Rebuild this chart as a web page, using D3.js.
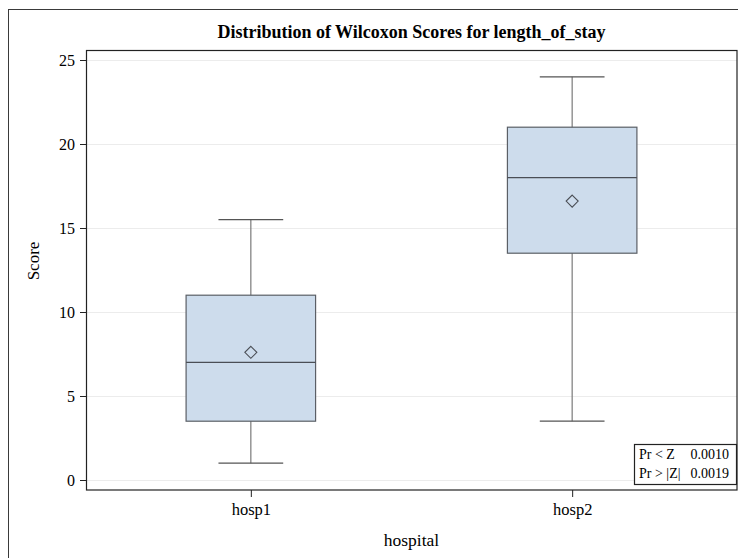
<!DOCTYPE html>
<html><head><meta charset="utf-8">
<script src="https://cdn.jsdelivr.net/npm/d3@7"></script>
<style>body{margin:0;background:#fff}svg{display:block;font-family:"Liberation Serif","Times New Roman",serif}</style>
</head><body><svg id="c" width="738" height="558"></svg>
<script>
const categories = ["hosp1", "hosp2"];
const whiskerLow = [1, 3.5];
const q1 = [3.5, 13.5];
const median = [7, 18];
const q3 = [11, 21];
const whiskerHigh = [15.5, 24];
const means = [7.6, 16.6];
const yTicks = [0, 5, 10, 15, 20, 25];
const statLabels = ["Pr < Z", "Pr > |Z|"];
const statValues = ["0.0010", "0.0019"];

const svg = d3.select("#c");
const L = 86, R = 737, T = 50, B = 490;

// outer border
svg.append("rect").attr("x", 8.5).attr("y", 9.5).attr("width", 745).attr("height", 570)
  .attr("fill", "none").attr("stroke", "#3a3a3a").attr("stroke-width", 1);

const y = d3.scaleLinear().domain([0, 25]).range([480, 60]);
const x = d3.scalePoint().domain(categories).range([L, R]).padding(0.513);
const boxW = x.step() * 0.403;

// gridlines
svg.append("g").selectAll("line").data(yTicks).join("line")
  .attr("x1", L).attr("x2", R).attr("y1", d => y(d) + 0.5).attr("y2", d => y(d) + 0.5)
  .attr("stroke", "#ececec").attr("stroke-width", 1);

// title
svg.append("text").attr("x", (L + R) / 2).attr("y", 38).attr("text-anchor", "middle")
  .attr("font-size", 18).attr("font-weight", "bold").attr("fill", "#000")
  .text("Distribution of Wilcoxon Scores for length_of_stay");

// boxes
const data = categories.map((c, i) => ({c, lo: whiskerLow[i], q1: q1[i], med: median[i], q3: q3[i], hi: whiskerHigh[i], mean: means[i]}));
const g = svg.append("g").selectAll("g").data(data).join("g");
g.append("line").attr("x1", d => x(d.c)).attr("x2", d => x(d.c))
  .attr("y1", d => y(d.hi)).attr("y2", d => y(d.lo)).attr("stroke", "#7a7a7a").attr("stroke-width", 1.2);
g.append("line").attr("x1", d => x(d.c) - boxW / 4).attr("x2", d => x(d.c) + boxW / 4)
  .attr("y1", d => y(d.hi)).attr("y2", d => y(d.hi)).attr("stroke", "#555").attr("stroke-width", 1.2);
g.append("line").attr("x1", d => x(d.c) - boxW / 4).attr("x2", d => x(d.c) + boxW / 4)
  .attr("y1", d => y(d.lo)).attr("y2", d => y(d.lo)).attr("stroke", "#555").attr("stroke-width", 1.2);
g.append("rect").attr("x", d => x(d.c) - boxW / 2).attr("width", boxW)
  .attr("y", d => y(d.q3)).attr("height", d => y(d.q1) - y(d.q3))
  .attr("fill", "#cddcec").attr("stroke", "#5b5f66").attr("stroke-width", 1.2);
g.append("line").attr("x1", d => x(d.c) - boxW / 2).attr("x2", d => x(d.c) + boxW / 2)
  .attr("y1", d => y(d.med)).attr("y2", d => y(d.med)).attr("stroke", "#4a4e55").attr("stroke-width", 1.3);
g.append("path").attr("d", d => {
  const cx = x(d.c), cy = y(d.mean), r = 6;
  return `M${cx},${cy - r}L${cx + r},${cy}L${cx},${cy + r}L${cx - r},${cy}Z`;
}).attr("fill", "none").attr("stroke", "#4a4e55").attr("stroke-width", 1.1);

// frame
svg.append("rect").attr("x", L + 0.5).attr("y", T + 0.5).attr("width", R - L - 0.5).attr("height", B - T - 0.5)
  .attr("fill", "none").attr("stroke", "#222").attr("stroke-width", 1.2);

// y axis
const yAxis = svg.append("g").attr("transform", `translate(${L},0)`)
  .call(d3.axisLeft(y).tickValues(yTicks).tickSize(6).tickPadding(5).tickFormat(d3.format("d")));
yAxis.select(".domain").remove();
yAxis.selectAll("line").attr("stroke", "#222");
yAxis.attr("font-size", 16).attr("font-family", "Liberation Serif, serif");
yAxis.selectAll("text").attr("fill", "#000");

// x axis
const xAxis = svg.append("g").attr("transform", `translate(0,${B})`)
  .call(d3.axisBottom(x).tickSize(7).tickPadding(6));
xAxis.select(".domain").remove();
xAxis.selectAll("line").attr("stroke", "#222");
xAxis.attr("font-size", 16.5).attr("font-family", "Liberation Serif, serif");
xAxis.selectAll("text").attr("fill", "#000");

// axis labels
svg.append("text").attr("x", (L + R) / 2).attr("y", 546).attr("text-anchor", "middle")
  .attr("font-size", 17.5).attr("fill", "#000").text("hospital");
svg.append("text").attr("transform", `translate(39,261) rotate(-90)`).attr("text-anchor", "middle")
  .attr("font-size", 17).attr("fill", "#000").text("Score");

// inset stats
const inset = svg.append("g");
inset.append("rect").attr("x", 634.5).attr("y", 444.5).attr("width", 102).attr("height", 40)
  .attr("fill", "#fff").attr("stroke", "#222").attr("stroke-width", 1.2);
inset.selectAll("text.l").data(statLabels).join("text").attr("class", "l")
  .attr("x", 639).attr("y", (d, i) => 459 + i * 19).attr("font-size", 14).attr("fill", "#000").text(d => d);
inset.selectAll("text.v").data(statValues).join("text").attr("class", "v")
  .attr("x", 729).attr("y", (d, i) => 459 + i * 19).attr("text-anchor", "end").attr("font-size", 14).attr("fill", "#000").text(d => d);
</script></body></html>
